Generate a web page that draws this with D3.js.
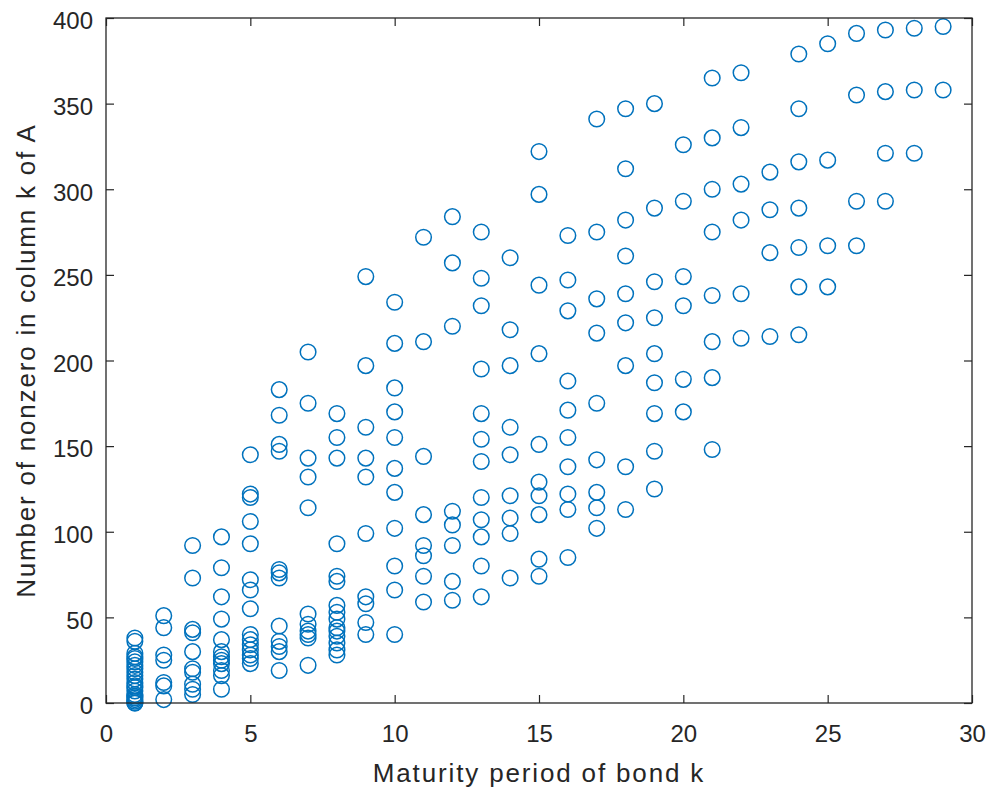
<!DOCTYPE html>
<html>
<head>
<meta charset="utf-8">
<script src="https://cdn.jsdelivr.net/npm/d3@7"></script>
<style>
  html, body { margin: 0; padding: 0; background: #fff; }
  svg { display: block; }
</style>
</head>
<body>
<svg id="chart" width="991" height="790"></svg>
<script>
// Maturity period of bond k (x) and the nonzero counts observed at each period (y)
const periods = [1,2,3,4,5,6,7,8,9,10,11,12,13,14,15,16,17,18,19,20,21,22,23,24,25,26,27,28,29];
const nonzeroCounts = [
  [38,36,29,27,26,24,22,20,18,16,14,12,10,9,7,5,4,3,2,1,0,0],
  [51,44,28,25,12,10,2],
  [92,73,43,41,30,20,18,11,8,5],
  [97,79,62,49,37,30,27,25,23,19,16,8],
  [145,122,120,106,93,72,66,55,40,37,34,31,28,26,23],
  [183,168,151,147,78,76,73,45,36,33,30,19],
  [205,175,143,132,114,52,46,42,40,38,22],
  [169,155,143,93,74,71,57,53,49,44,42,39,35,31,28],
  [249,197,161,143,132,99,62,58,47,40],
  [234,210,184,170,155,137,123,102,80,66,40],
  [272,211,144,110,92,86,74,59],
  [284,257,220,112,104,92,71,60],
  [275,248,232,195,169,154,141,120,107,97,80,62],
  [260,218,197,161,145,121,108,99,73],
  [322,297,244,204,151,129,121,110,84,74],
  [273,247,229,188,171,155,138,122,113,85],
  [341,275,236,216,175,142,123,114,102],
  [347,312,282,261,239,222,197,138,113],
  [350,289,246,225,204,187,169,147,125],
  [326,293,249,232,189,170],
  [365,330,300,275,238,211,190,148],
  [368,336,303,282,239,213],
  [310,288,263,214],
  [379,347,316,289,266,243,215],
  [385,317,267,243],
  [391,355,293,267],
  [393,357,321,293],
  [394,358,321],
  [395,358]
];
const xTicks = [0,5,10,15,20,25,30];
const yTicks = [0,50,100,150,200,250,300,350,400];
const xLabel = "Maturity period of bond k";
const yLabel = "Number of nonzero in column k of A";

const points = [];
periods.forEach((p, i) => nonzeroCounts[i].forEach(v => points.push({x: p, y: v})));

const svg = d3.select("#chart");
const L = 106, R = 972, T = 18, B = 703;
const axisColor = "#262626";
const font = "'Liberation Sans', Arial, Helvetica, sans-serif";

const x = d3.scaleLinear().domain([0, 30]).range([L, R]);
const y = d3.scaleLinear().domain([0, 400]).range([B, T]);

// points
svg.append("g")
  .selectAll("circle")
  .data(points)
  .join("circle")
  .attr("cx", d => x(d.x))
  .attr("cy", d => y(d.y))
  .attr("r", 7.8)
  .attr("fill", "none")
  .attr("stroke", "#0072BD")
  .attr("stroke-width", 1.5);

const tickLen = 8;
function styleAxis(g) {
  g.select(".domain").remove();
  g.selectAll(".tick line").attr("stroke", axisColor).attr("stroke-width", 1.2);
  g.selectAll(".tick text").attr("fill", axisColor).style("font-family", font).style("font-size", "24px");
}

// bottom axis (ticks inward)
svg.append("g").attr("transform", `translate(0,${B})`)
  .call(d3.axisBottom(x).tickValues(xTicks).tickSizeInner(-tickLen).tickSizeOuter(0).tickPadding(22))
  .call(styleAxis);
// top axis ticks only
svg.append("g").attr("transform", `translate(0,${T})`)
  .call(d3.axisTop(x).tickValues(xTicks).tickSizeInner(-tickLen).tickSizeOuter(0).tickFormat(""))
  .call(styleAxis);
// left axis
const yAxisG = svg.append("g").attr("transform", `translate(${L},0)`)
  .call(d3.axisLeft(y).tickValues(yTicks).tickSizeInner(-tickLen).tickSizeOuter(0).tickPadding(13))
  .call(styleAxis);
yAxisG.selectAll(".tick text").attr("dy", "0.45em");
// right axis ticks only
svg.append("g").attr("transform", `translate(${R},0)`)
  .call(d3.axisRight(y).tickValues(yTicks).tickSizeInner(-tickLen).tickSizeOuter(0).tickFormat(""))
  .call(styleAxis);

// box
svg.append("rect")
  .attr("x", L).attr("y", T).attr("width", R - L).attr("height", B - T)
  .attr("fill", "none").attr("stroke", axisColor).attr("stroke-width", 1.3);

// labels
svg.append("text")
  .attr("x", (L + R) / 2).attr("y", 782)
  .attr("text-anchor", "middle")
  .attr("fill", axisColor)
  .style("font-family", font).style("font-size", "26px").style("letter-spacing", "1.85px")
  .text(xLabel);

svg.append("text")
  .attr("transform", `translate(35,${(T + B) / 2}) rotate(-90)`)
  .attr("text-anchor", "middle")
  .attr("fill", axisColor)
  .style("font-family", font).style("font-size", "26px").style("letter-spacing", "1.8px")
  .text(yLabel);
</script>
</body>
</html>
